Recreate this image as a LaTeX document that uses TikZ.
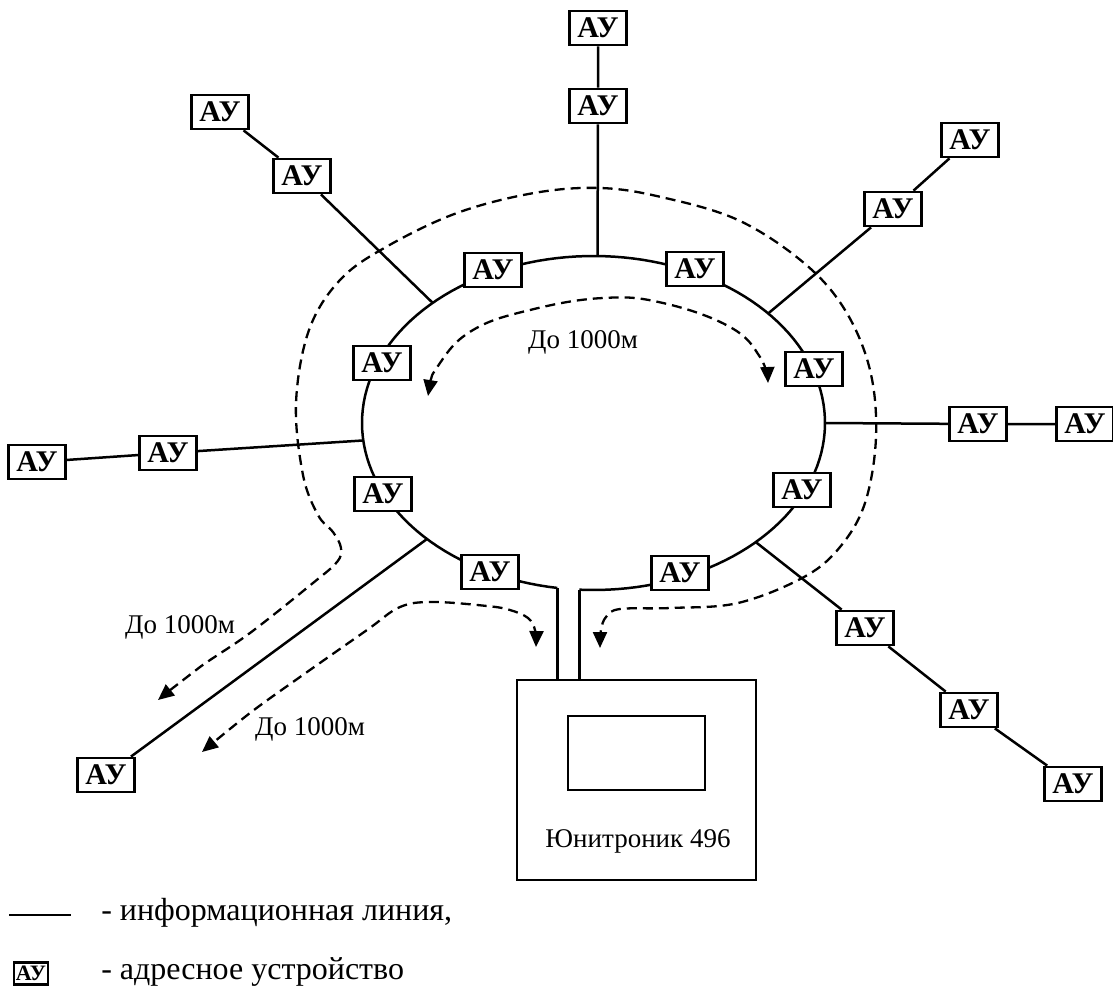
\documentclass[tikz,border=0pt]{standalone}
\usepackage{fontspec}
\setmainfont{Liberation Serif}
\usetikzlibrary{arrows.meta}

\begin{document}
\begin{tikzpicture}[x=1pt,y=-1pt,line width=2.5pt,
  au/.style={draw,fill=white,line width=2.8pt,minimum width=57pt,minimum height=34pt,
    inner sep=0pt,font=\fontsize{30}{30}\selectfont\bfseries},
  route/.style={line width=2.3pt,dash pattern=on 10pt off 6pt,
    {Triangle[length=16pt,width=14pt]}-{Triangle[length=16pt,width=14pt]}},
  lbl/.style={font=\fontsize{27}{27}\selectfont,inner sep=0pt,anchor=base}]
  \useasboundingbox (0,0) rectangle (1113,987);

  % ring line with the gap at the bottom
  \draw plot[domain=99:453.5,samples=150] ({593.5+231.5*cos(\x)},{423+167*sin(\x)});
  \foreach \n/\t in {jT/271,jUL/226,jUR/319,jR/360,jL/174,jLR/45.5,jLL/136,gL/99,gR/93.5}
    \coordinate (\n) at ({593.5+231.5*cos(\t)},{423+167*sin(\t)});

  % devices on the ring
  \foreach \n/\p in {rb1/{(493,270)},rb2/{(695,269)},rb3/{(382,363)},rb4/{(814,369)},
                     rb5/{(383,494)},rb6/{(802,490)},rb7/{(490,572)},rb8/{(680,573)}}
    \node[au] (\n) at \p {АУ};

  % devices on the branches
  \foreach \n/\p in {t1/{(598,28)},t2/{(598,106)},ul1/{(220,112)},ul2/{(302,176)},
                     ur1/{(970,140)},ur2/{(893,209)},r1/{(978,424)},r2/{(1085,424)},
                     l1/{(37,462)},l2/{(168,453)},ll/{(106,775)},
                     lr1/{(865,628)},lr2/{(969,710)},lr3/{(1073,784)}}
    \node[au] (\n) at \p {АУ};

  \draw (t1) -- (t2) -- (jT);
  \draw (ul1) -- (ul2) -- (jUL);
  \draw (ur1) -- (ur2) -- (jUR);
  \draw (r2) -- (r1) -- (jR);
  \draw (l1) -- (l2) -- (jL);
  \draw (ll) -- (jLL);
  \draw (jLR) -- (lr1) -- (lr2) -- (lr3);

  % control unit
  \node[draw,minimum width=239pt,minimum height=200pt,inner sep=0pt] (unit) at (636.5,780) {};
  \node[draw,minimum width=137pt,minimum height=74pt,inner sep=0pt] (screen) at (636.5,753) {};
  \node[lbl] (unitname) at (638,847) {Юнитроник 496};
  \draw (gL) -- (gL |- unit.north);
  \draw (gR) -- (gR |- unit.north);

  % distances
  \draw[route] plot[smooth,tension=.7] coordinates {(428,396) (440,363) (473,330) (530,310)
    (603,298) (663,303) (730,327) (760,357) (768,383)};
  \draw[route] plot[smooth,tension=.6] coordinates {(158,700) (200,667) (250,633) (313,583)
    (337,562) (341,548) (333,532) (318,515) (303,475) (296,403) (309,330) (340,280)
    (386,247) (457,213) (534,193) (600,188) (661,197) (738,220) (804,263) (845,310)
    (870,370) (876,437) (865,503) (840,547) (804,577) (738,603) (670,608) (620,609)
    (606,617) (601,630) (600,648)};
  \draw[route] plot[smooth,tension=.6] coordinates {(536,647) (535,630) (528,618)
    (510,610) (487,606) (433,602) (400,607) (367,630) (300,677) (250,713) (202,752)};
  \node[lbl] (d1) at (583,348) {До 1000м};
  \node[lbl] (d2) at (180,633) {До 1000м};
  \node[lbl] (d3) at (310,735) {До 1000м};

  % legend
  \draw (9,915) -- (71,915);
  \node[lbl,anchor=base west,font=\fontsize{32}{32}\selectfont] (leg1) at (100,920) {- информационная линия,};
  \node[au,minimum width=34pt,minimum height=22pt,font=\fontsize{22}{22}\selectfont\bfseries] (leg2) at (31,973.5) {АУ};
  \node[lbl,anchor=base west,font=\fontsize{32}{32}\selectfont] (leg3) at (100,979) {- адресное устройство};
\end{tikzpicture}
\end{document}
